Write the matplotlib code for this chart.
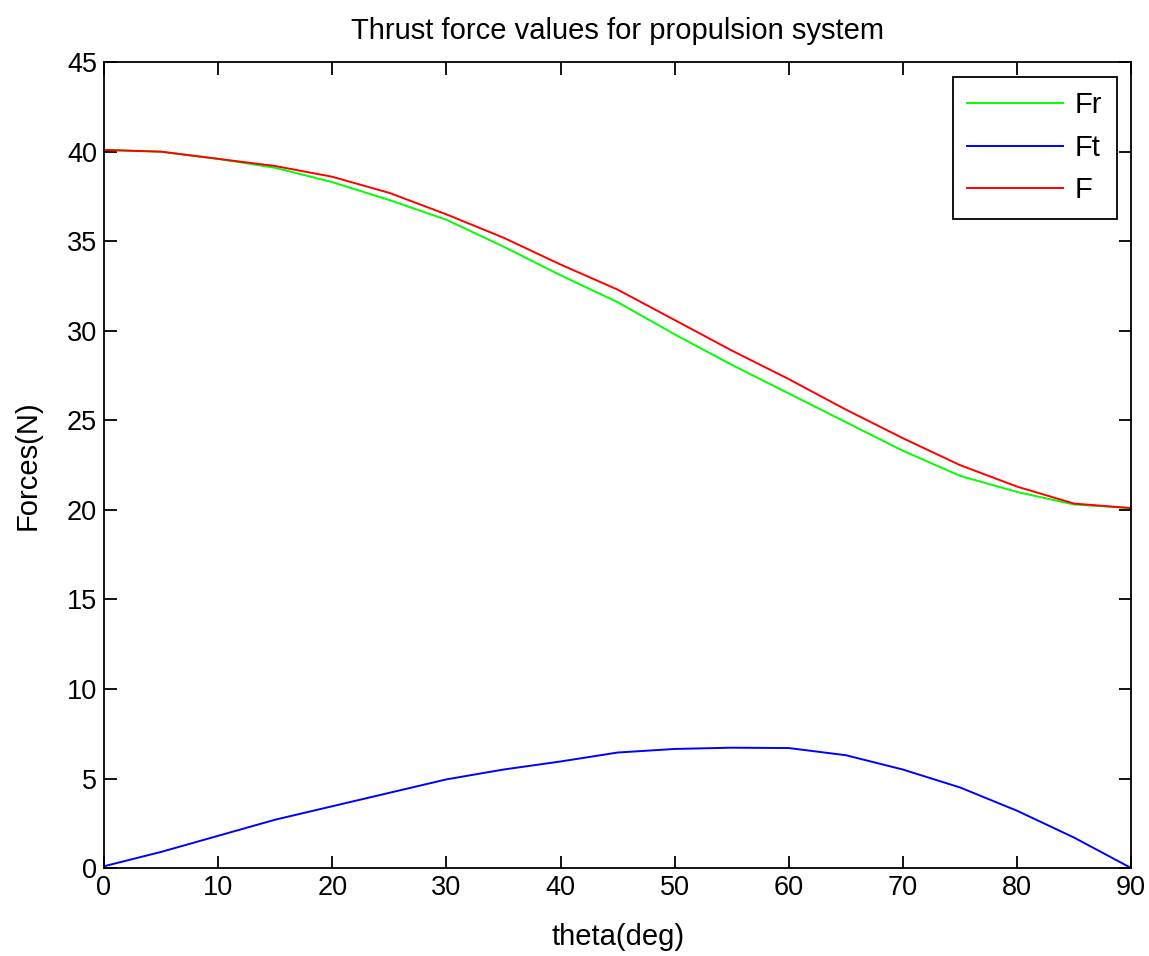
import matplotlib
matplotlib.use("Agg")
import matplotlib.pyplot as plt
import numpy as np

# values, every 5 degrees
theta = [0, 5, 10, 15, 20, 25, 30, 35, 40, 45, 50, 55, 60, 65, 70, 75, 80, 85, 90]
Fr = [40.1, 40.0, 39.6, 39.1, 38.3, 37.3, 36.2, 34.7, 33.1, 31.6, 29.8, 28.1, 26.5, 24.9, 23.3, 21.9, 21.0, 20.3, 20.1]
Ft = [0.1, 0.9, 1.8, 2.7, 3.45, 4.2, 4.95, 5.5, 5.95, 6.45, 6.65, 6.72, 6.7, 6.3, 5.5, 4.5, 3.2, 1.7, 0.0]
F = [40.1, 40.0, 39.6, 39.2, 38.6, 37.7, 36.5, 35.2, 33.7, 32.3, 30.6, 28.9, 27.3, 25.6, 24.0, 22.5, 21.3, 20.35, 20.1]

plt.rcParams['font.family'] = ['Liberation Sans', 'DejaVu Sans']

fig = plt.figure(figsize=(11.49, 9.56), dpi=100)
ax = fig.add_axes([0.0905, 0.092, 0.894, 0.843])

ax.plot(theta, Fr, color='#00ff00', lw=1.4, label='Fr')
ax.plot(theta, Ft, color='#0000ff', lw=1.4, label='Ft')
ax.plot(theta, F, color='#ff0000', lw=1.4, label='F')

ax.set_xlim(0, 90)
ax.set_ylim(0, 45)
ax.set_xticks(np.arange(0, 91, 10))
ax.set_yticks(np.arange(0, 46, 5))
ax.tick_params(direction='in', length=9, width=1.3, top=True, right=True, labelsize=19.5, pad=5)
for s in ax.spines.values():
    s.set_linewidth(1.3)

ax.set_title('Thrust force values for propulsion system', fontsize=21, pad=17)
ax.set_xlabel('theta(deg)', fontsize=21, labelpad=16)
ax.set_ylabel('Forces(N)', fontsize=21, labelpad=18)

leg = ax.legend(loc='upper right', fontsize=21, fancybox=False,
                framealpha=1, edgecolor='black', borderaxespad=0.5, handlelength=3.3,
                labelspacing=0.5, borderpad=0.5, handletextpad=0.38)
leg.get_frame().set_linewidth(1.3)

fig.savefig('out.png', dpi=100)
